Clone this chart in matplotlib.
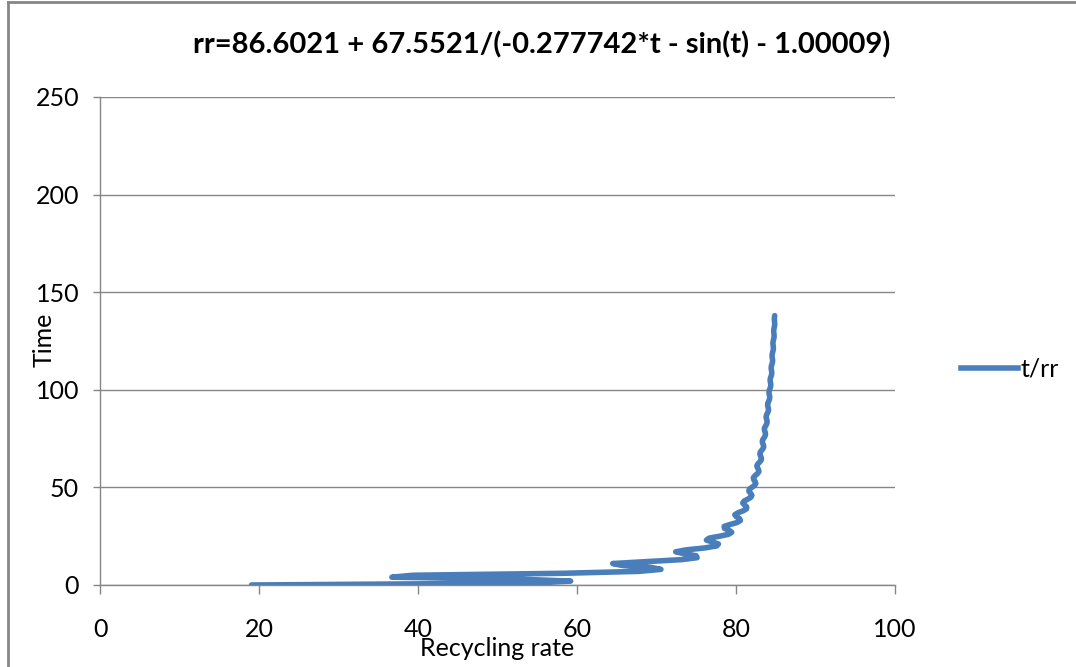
import matplotlib
matplotlib.use("Agg")
import matplotlib.pyplot as plt
from matplotlib.lines import Line2D

plt.rcParams["font.family"] = ["Lato", "DejaVu Sans"]

TITLE = "rr=86.6021 + 67.5521/(-0.277742*t - sin(t) - 1.00009)"
SERIES_LABEL = "t/rr"
X_LABEL = "Recycling rate"
Y_LABEL = "Time"

X_TICKS = [0, 20, 40, 60, 80, 100]
Y_TICKS = [0, 50, 100, 150, 200, 250]

# time steps (t)
time = [
    0, 1, 2, 3, 4, 5, 6, 7, 8, 9,
    10, 11, 12, 13, 14, 15, 16, 17, 18, 19,
    20, 21, 22, 23, 24, 25, 26, 27, 28, 29,
    30, 31, 32, 33, 34, 35, 36, 37, 38, 39,
    40, 41, 42, 43, 44, 45, 46, 47, 48, 49,
    50, 51, 52, 53, 54, 55, 56, 57, 58, 59,
    60, 61, 62, 63, 64, 65, 66, 67, 68, 69,
    70, 71, 72, 73, 74, 75, 76, 77, 78, 79,
    80, 81, 82, 83, 84, 85, 86, 87, 88, 89,
    90, 91, 92, 93, 94, 95, 96, 97, 98, 99,
    100, 101, 102, 103, 104, 105, 106, 107, 108, 109,
    110, 111, 112, 113, 114, 115, 116, 117, 118, 119,
    120, 121, 122, 123, 124, 125, 126, 127, 128, 129,
    130, 131, 132, 133, 134, 135, 136, 137, 138,
]

# recycling rate at each time step
recycling_rate = [
    19.06, 54.73, 59.20, 52.39, 36.72, 39.36, 58.30, 67.84, 70.56, 69.33,
    65.71, 64.49, 68.81, 73.17, 75.11, 74.99, 73.50, 72.41, 73.73, 76.09,
    77.56, 77.79, 77.09, 76.28, 76.61, 77.95, 79.08, 79.46, 79.14, 78.55,
    78.51, 79.26, 80.13, 80.55, 80.45, 80.04, 79.85, 80.25, 80.90, 81.32,
    81.35, 81.08, 80.85, 81.02, 81.50, 81.89, 82.00, 81.84, 81.62, 81.66,
    81.98, 82.34, 82.49, 82.41, 82.23, 82.18, 82.39, 82.69, 82.87, 82.85,
    82.71, 82.62, 82.74, 82.98, 83.17, 83.20, 83.10, 83.00, 83.04, 83.23,
    83.42, 83.49, 83.42, 83.32, 83.32, 83.45, 83.62, 83.71, 83.69, 83.60,
    83.56, 83.65, 83.80, 83.90, 83.91, 83.84, 83.78, 83.83, 83.95, 84.06,
    84.09, 84.04, 83.98, 83.99, 84.09, 84.20, 84.24, 84.22, 84.16, 84.15,
    84.21, 84.31, 84.37, 84.37, 84.32, 84.29, 84.33, 84.42, 84.49, 84.50,
    84.46, 84.42, 84.44, 84.51, 84.58, 84.61, 84.58, 84.54, 84.54, 84.60,
    84.67, 84.71, 84.69, 84.66, 84.64, 84.68, 84.74, 84.79, 84.79, 84.76,
    84.74, 84.76, 84.81, 84.86, 84.87, 84.85, 84.82, 84.83, 84.87,
]

LINE_COLOR = "#4A7EBB"
AXIS_COLOR = "#868686"

fig = plt.figure(figsize=(10.76, 6.67), dpi=100)
ax = fig.add_axes([100 / 1076, 82 / 667, 795 / 1076, 488 / 667])

ax.plot(recycling_rate, time, color=LINE_COLOR, linewidth=4.0,
        solid_joinstyle="round", solid_capstyle="round", label=SERIES_LABEL)

ax.set_xlim(0, 100)
ax.set_ylim(0, 250)
ax.set_xticks(X_TICKS)
ax.set_yticks(Y_TICKS)

ax.grid(axis="y", color=AXIS_COLOR, linewidth=1.0)
ax.set_axisbelow(True)
for side in ["top", "right"]:
    ax.spines[side].set_visible(False)
for side in ["left", "bottom"]:
    ax.spines[side].set_color(AXIS_COLOR)
    ax.spines[side].set_linewidth(1.0)

ax.tick_params(axis="x", direction="out", length=6.5, width=1.0,
               color=AXIS_COLOR, pad=17, labelsize=18)
ax.tick_params(axis="y", direction="out", length=5, width=1.0,
               color=AXIS_COLOR, pad=10, labelsize=18)

fig.text(497 / 1076, 1 - 648 / 667, X_LABEL, ha="center", va="center",
         fontsize=18)
fig.text(44 / 1076, 1 - 340 / 667, Y_LABEL, ha="center", va="center",
         fontsize=18, rotation=90)

fig.text(542 / 1076, 1 - 45 / 667, TITLE, ha="center", va="center",
         fontsize=21, fontweight="bold")

handle = Line2D([], [], color=LINE_COLOR, linewidth=4.0)
fig.legend([handle], [SERIES_LABEL], loc="center left",
           bbox_to_anchor=(938 / 1076, 1 - 369 / 667), frameon=False,
           fontsize=18, handlelength=2.3, handletextpad=0.1)

# chart area border (only left and top edges visible in the crop)
fig.add_artist(Line2D([8 / 1076, 8 / 1076], [0, 1 - 2 / 667],
                      transform=fig.transFigure, color=AXIS_COLOR, linewidth=2))
fig.add_artist(Line2D([8 / 1076, 1], [1 - 2 / 667, 1 - 2 / 667],
                      transform=fig.transFigure, color=AXIS_COLOR, linewidth=2))

fig.savefig("out.png", dpi=100)
